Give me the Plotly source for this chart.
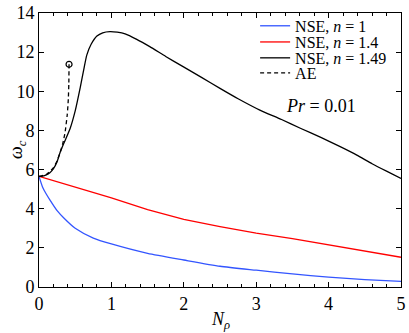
import plotly.graph_objects as go

# Data
blue_x = [0, 0.05, 0.1, 0.15, 0.25, 0.35, 0.5, 0.75, 1.0, 1.5, 2.0, 2.5, 3.0, 3.5, 4.0, 4.5, 5.0]
blue_y = [5.65, 5.1, 4.75, 4.45, 3.9, 3.5, 3.0, 2.5, 2.2, 1.72, 1.38, 1.06, 0.86, 0.67, 0.5, 0.38, 0.29]

red_x = [0, 0.5, 0.8, 1.0, 1.5, 2.0, 2.5, 3.0, 3.5, 4.0, 4.5, 5.0]
red_y = [5.65, 5.1, 4.79, 4.55, 3.95, 3.45, 3.08, 2.75, 2.47, 2.15, 1.85, 1.52]

black_x = [0, 0.05, 0.1, 0.15, 0.2, 0.25, 0.29, 0.35, 0.43, 0.5, 0.57, 0.62, 0.66, 0.72, 0.8, 0.88, 0.98,
           1.08, 1.19, 1.35, 1.53, 1.75, 1.99, 2.25, 2.5, 2.75, 3.05, 3.35, 3.61, 3.9, 4.16, 4.39, 4.6, 4.8, 5.0]
black_y = [5.65, 5.67, 5.73, 5.84, 6.05, 6.4, 6.86, 7.4, 8.1, 9.0, 10.2, 11.15, 11.85, 12.4, 12.82, 12.99, 13.05,
           13.02, 12.93, 12.65, 12.28, 11.78, 11.26, 10.7, 10.15, 9.62, 9.04, 8.56, 8.11, 7.63, 7.17, 6.74, 6.3, 5.92, 5.55]

ae_x = [0, 0.1, 0.2, 0.25, 0.29, 0.33, 0.36, 0.39, 0.405, 0.412, 0.415]
ae_y = [5.65, 5.75, 6.1, 6.45, 6.85, 7.35, 7.9, 8.8, 9.6, 10.4, 11.38]

x_ticks = [0, 1, 2, 3, 4, 5]
y_ticks = [0, 2, 4, 6, 8, 10, 12, 14]

series_names = ["NSE, <i>n</i> = 1", "NSE, <i>n</i> = 1.4", "NSE, <i>n</i> = 1.49", "AE"]

FONT = "Liberation Serif"

fig = go.Figure()
fig.add_trace(go.Scatter(x=blue_x, y=blue_y, mode="lines", line=dict(color="#3355ff", width=1.3, shape="spline", smoothing=0.6),
                         name=series_names[0], legend="legend"))
fig.add_trace(go.Scatter(x=red_x, y=red_y, mode="lines", line=dict(color="#ff0000", width=1.3),
                         name=series_names[1], legend="legend2"))
fig.add_trace(go.Scatter(x=black_x, y=black_y, mode="lines", line=dict(color="black", width=1.3, shape="spline", smoothing=0.5),
                         name=series_names[2], legend="legend3"))
fig.add_trace(go.Scatter(x=ae_x, y=ae_y, mode="lines", line=dict(color="black", width=1.3, dash="4px,3px", shape="spline", smoothing=0.5),
                         name=series_names[3], legend="legend4"))
fig.add_trace(go.Scatter(x=[ae_x[-1]], y=[ae_y[-1]], mode="markers", showlegend=False,
                         marker=dict(symbol="circle-open", size=6, color="black", line=dict(width=1.2))))

fig.add_annotation(x=3.9, y=9.25, text="<i>Pr</i> = 0.01", showarrow=False,
                   font=dict(family=FONT, size=18, color="black"))
fig.add_annotation(x=0.5, y=0, xref="paper", yref="paper", yshift=-20, text="<i>N</i><sub><i>ρ</i></sub>",
                   showarrow=False, yanchor="top", font=dict(family=FONT, size=18, color="black"))
fig.add_annotation(x=0, y=0.5, xref="paper", yref="paper", xshift=-22, text="<i>ω</i><sub><i>c</i></sub>",
                   showarrow=False, textangle=-90, xanchor="center", font=dict(family=FONT, size=18, color="black"))

axis_common = dict(showline=True, linecolor="black", linewidth=1, mirror="ticks", ticks="inside",
                   ticklen=5, tickcolor="black", showgrid=False, zeroline=False, automargin=False,
                   tickfont=dict(family=FONT, size=18, color="black"))

fig.update_xaxes(range=[0, 5], tickvals=x_ticks, ticktext=[str(v) for v in x_ticks],
                 minor=dict(ticks="inside", ticklen=3, dtick=0.2, tickcolor="black", showgrid=False),
                 ticklabelstandoff=0, **axis_common)
fig.update_yaxes(range=[0, 14], tickvals=y_ticks, ticktext=[str(v) for v in y_ticks],
                 ticklabelstandoff=0, **axis_common)

leg_common = dict(x=0.597, xanchor="left", yanchor="middle", bgcolor="rgba(0,0,0,0)",
                  font=dict(family=FONT, size=16, color="black"), itemwidth=30, borderwidth=0)

fig.update_layout(
    width=409, height=333,
    margin=dict(l=39, r=8, t=13, b=46),
    plot_bgcolor="white", paper_bgcolor="white",
    font=dict(family=FONT, color="black"),
    legend=dict(y=0.953, **leg_common),
    legend2=dict(y=0.894, **leg_common),
    legend3=dict(y=0.836, **leg_common),
    legend4=dict(y=0.781, **leg_common),
)

fig.write_html("out.html", config={"displayModeBar": False},
               post_script="document.body.style.margin='0';document.body.style.overflow='hidden';")
